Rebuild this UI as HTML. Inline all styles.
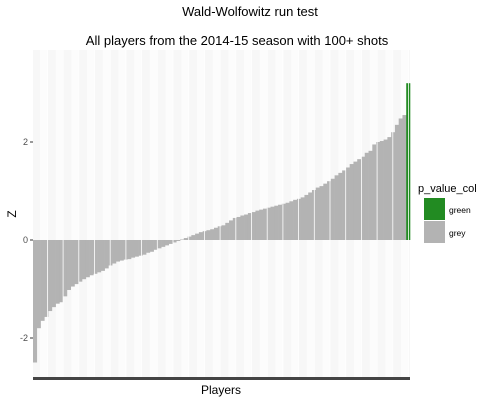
<!DOCTYPE html>
<html><head><meta charset="utf-8"><style>
body{margin:0;background:#fff;font-family:"Liberation Sans",sans-serif}
</style></head><body>
<svg id="chart" width="500" height="400" xmlns="http://www.w3.org/2000/svg" font-family="Liberation Sans, sans-serif">
<text x="250" y="16" font-size="13" text-anchor="middle">Wald-Wolfowitz run test</text>
<text x="237" y="45" font-size="13" text-anchor="middle">All players from the 2014-15 season with 100+ shots</text>
<rect x="33" y="50" width="377" height="328" fill="#f7f7f7"/>
<g id="stripes"></g>
<g id="bars"></g>
<g id="gaps"></g>
<rect x="33" y="377" width="377" height="3" fill="#444"/>
<g id="yaxis"></g>
<text x="16" y="214" font-size="12" text-anchor="middle" transform="rotate(-90 16 214)">Z</text>
<text x="221" y="394" font-size="12" text-anchor="middle">Players</text>
<g>
<text x="418" y="192" font-size="11">p_value_col</text>
<rect x="424" y="198" width="21" height="22" fill="#228B22"/>
<text x="449" y="213" font-size="8.5">green</text>
<rect x="424" y="221" width="21" height="22" fill="#b3b3b3"/>
<text x="449" y="236" font-size="8.5">grey</text>
</g>
</svg>
<script>
const zValues=[-2.5,-1.8,-1.65,-1.57,-1.45,-1.37,-1.3,-1.27,-1.15,-1.02,-0.95,-0.9,-0.85,-0.8,-0.76,-0.72,-0.69,-0.66,-0.63,-0.58,-0.52,-0.48,-0.44,-0.42,-0.4,-0.39,-0.36,-0.34,-0.32,-0.3,-0.26,-0.24,-0.2,-0.17,-0.14,-0.11,-0.08,-0.05,-0.02,0.01,0.04,0.07,0.1,0.13,0.16,0.18,0.2,0.22,0.25,0.28,0.3,0.35,0.4,0.45,0.47,0.5,0.52,0.55,0.57,0.6,0.62,0.64,0.66,0.68,0.7,0.72,0.74,0.76,0.79,0.82,0.84,0.87,0.92,0.97,1.02,1.07,1.1,1.15,1.2,1.25,1.32,1.37,1.42,1.48,1.55,1.6,1.65,1.7,1.78,1.82,1.95,2.0,2.02,2.05,2.1,2.2,2.35,2.48,2.55,3.2];
const colorGroup=zValues.map((v,i)=>i>=zValues.length-1?'green':'grey');
const yTicks=[-2,0,2];
const NS='http://www.w3.org/2000/svg';
const x0=33,x1=410;
const bw=(x1-x0)/zValues.length;
const xs=i=>x0+i*bw;
const ys=v=>240-49*v;
const bars=document.getElementById('bars');
zValues.forEach((v,i)=>{
  const r=document.createElementNS(NS,'rect');
  
  
  const y=Math.min(ys(v),ys(0));
  r.setAttribute('x',xs(i));r.setAttribute('width',bw+0.3);
  r.setAttribute('y',y);r.setAttribute('height',Math.abs(ys(v)-ys(0)));
  r.setAttribute('fill',colorGroup[i]==='green'?'#228B22':'#b3b3b3');
  bars.appendChild(r);
});
const st=document.getElementById('stripes'),gp=document.getElementById('gaps');
for(let x=x0+7;x<x1;x+=15.7){
  const s=document.createElementNS(NS,'rect');
  
  
  s.setAttribute('x',x);s.setAttribute('y',50);s.setAttribute('width',7);s.setAttribute('height',328);s.setAttribute('fill','#fcfcfc');
  st.appendChild(s);
  const g=document.createElementNS(NS,'rect');
  
  
  g.setAttribute('x',x+7);g.setAttribute('y',50);g.setAttribute('width',0.8);g.setAttribute('height',328);g.setAttribute('fill','#fff');
  gp.appendChild(g);
}
const ya=document.getElementById('yaxis');
yTicks.forEach(t=>{
  const tk=document.createElementNS(NS,'line');
  
  
  tk.setAttribute('x1',30);tk.setAttribute('x2',33);tk.setAttribute('y1',ys(t));tk.setAttribute('y2',ys(t));
  tk.setAttribute('stroke','#333');
  ya.appendChild(tk);
  const tx=document.createElementNS(NS,'text');
  
  
  tx.setAttribute('x',28);tx.setAttribute('y',ys(t)+3);tx.setAttribute('font-size','9');tx.setAttribute('text-anchor','end');tx.setAttribute('fill','#4d4d4d');
  tx.textContent=t;
  ya.appendChild(tx);
});
</script>
</body></html>
